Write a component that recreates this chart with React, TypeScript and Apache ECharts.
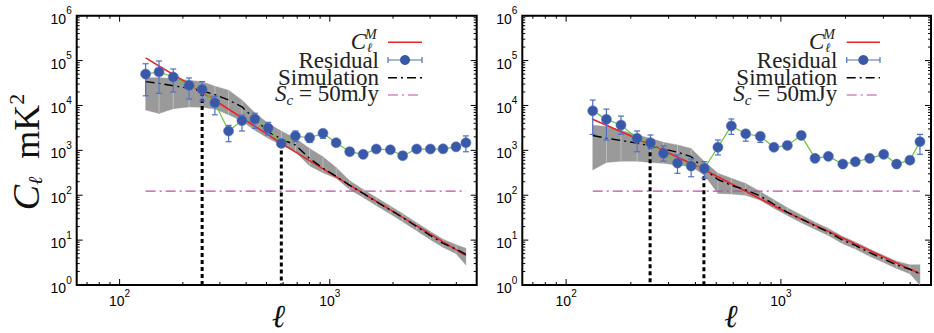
import React, { useEffect, useRef } from "react";
import * as echarts from "echarts";

// multipole bins (shared by both panels)
const ELL = [133, 154, 180, 214, 247, 284, 330, 382, 440, 509, 588, 686, 802, 928, 1072, 1244, 1442, 1664, 1942, 2222, 2590, 3011, 3458, 3987, 4442];

// ---- left panel ----
const RESID_A = [5.0e4, 5.6e4, 4.3e4, 2.8e4, 2.28e4, 1.15e4, 2.7e3, 4.6e3, 5.0e3, 3.15e3, 1.43e3, 2.09e3, 1.9e3, 2.4e3, 1.48e3, 935, 815, 1070, 1030, 760, 1070, 1070, 1080, 1200, 1480];
const ERR_LO_A = [1.64e4, 1.86e4, 2.0e4, 1.39e4, 1.27e4, 6.2e3, 1.56e3, 2.7e3, 3.1e3, 2.2e3, 1.25e3, 1.56e3, 1.5e3, 1.85e3, 1.3e3, 850, 750, 990, 960, 700, 990, 990, 1000, 1080, 930];
const ERR_HI_A = [8.5e4, 9.8e4, 6.5e4, 4.1e4, 3.4e4, 1.6e4, 3.6e3, 6.1e3, 6.7e3, 4.2e3, 1.65e3, 2.7e3, 2.4e3, 2.8e3, 1.7e3, 1030, 890, 1150, 1110, 830, 1150, 1150, 1160, 1350, 2100];
const SIM_A = [3.4e4, 3.1e4, 2.75e4, 2.4e4, 2.1e4, 1.74e4, 1.32e4, 9.3e3, 5.0e3, 2.6e3, 1.78e3, 1.32e3, 660, 400, 263, 166, 110, 72, 47, 32, 20, 12.6, 8.5, 6.3, 4.8];
const BAND_LO_A = [7.9e3, 6.6e3, 8.5e3, 9.3e3, 9.1e3, 8.3e3, 6.2e3, 4.5e3, 2.8e3, 1.86e3, 1.32e3, 933, 447, 316, 240, 135, 89, 59, 38, 25.7, 16.2, 10.2, 6.9, 5.0, 2.8];
const BAND_HI_A = [4.17e4, 4.17e4, 3.98e4, 3.63e4, 3.39e4, 2.69e4, 2.19e4, 1.32e4, 6.9e3, 3.98e3, 2.69e3, 1.86e3, 1.1e3, 724, 417, 209, 135, 89, 57.5, 38.9, 24.5, 15.5, 10.5, 7.9, 6.6];
const MODEL_ELL_A = [133, 247, 588, 1442, 4442];
const MODEL_A = [1.15e5, 2.0e4, 1.43e3, 110, 4.5];
const CUT_ELL_A = [247, 588];
const CUT_TOP_A = [2.0e4, 1.43e3];

// ---- right panel ----
const RESID_B = [7.6e3, 4.9e3, 3.66e3, 1.85e3, 1.48e3, 857, 521, 447, 398, 1170, 3500, 2340, 2050, 1170, 1290, 2150, 663, 735, 495, 558, 663, 815, 495, 605, 1560];
const ERR_LO_B = [2.27e3, 1.7e3, 2.27e3, 930, 1.1e3, 575, 308, 258, 238, 790, 2.27e3, 1.6e3, 1.5e3, 1.0e3, 1.15e3, 1.95e3, 600, 670, 450, 505, 600, 740, 450, 540, 815];
const ERR_HI_B = [1.32e4, 8.3e3, 5.8e3, 2.7e3, 2.2e3, 1.26e3, 790, 645, 560, 1.7e3, 5.0e3, 2.8e3, 2.45e3, 1.35e3, 1.45e3, 2.35e3, 730, 800, 545, 615, 730, 900, 545, 680, 2.27e3];
const SIM_B = [2140, 1860, 1660, 1445, 1260, 1070, 912, 724, 380, 224, 166, 132, 95.5, 63, 41.7, 29.5, 20.9, 15.1, 10, 7.6, 5.25, 3.8, 2.8, 2.24, 1.78];
const BAND_LO_B = [363, 537, 575, 575, 537, 513, 468, 437, 282, 110, 107, 100, 77.6, 51.3, 35.5, 24.5, 17.4, 12.6, 8.3, 6.3, 4.37, 3.16, 2.34, 1.78, 1.0];
const BAND_HI_B = [3630, 3390, 2820, 2190, 1860, 1510, 1320, 1100, 562, 309, 240, 182, 120, 79.4, 52.5, 36.3, 25.1, 18.2, 12, 9.1, 6.3, 4.57, 3.39, 2.82, 2.82];
const MODEL_ELL_B = [132, 250, 435, 682, 1000, 4418];
const MODEL_B = [5000, 1310, 378, 124, 48, 1.8];
const CUT_ELL_B = [246, 438];
const CUT_TOP_B = [1.3e3, 380];

// flux cut level
const S_CUT = 124;
const S_CUT_ELL = [133, 4442];

// axes
const X_MIN = 62.5;
const X_MAX = 5000;
const Y_MIN = 1;
const Y_MAX = 1e6;
const X_MINOR = [70, 80, 90, 200, 300, 400, 500, 600, 700, 800, 900, 2000, 3000, 4000];
const X_MAJOR = [100, 1000];
const Y_MAJOR = [1, 10, 100, 1e3, 1e4, 1e5, 1e6];
const Y_MINOR = [1, 10, 100, 1e3, 1e4, 1e5].flatMap((d) => [2, 3, 4, 5, 6, 7, 8, 9].map((k) => k * d));

const LEGEND_LABELS = ["Residual", "Simulation", " = 50mJy"];

const SERIF = "'Liberation Serif', 'DejaVu Serif', serif";
const SANS = "'Liberation Sans', Arial, sans-serif";
const RED = "#e8262a";
const BLUE = "#3a58a8";
const EBLUE = "#4f6fc2";
const GREEN = "#6cc43a";
const MAGENTA = "#b553a6";
const GRAY = "#9a9a9a";

const GRIDS = [
  { left: 76.7, top: 15.7, width: 400, height: 269.3 },
  { left: 522.3, top: 15.7, width: 413.7, height: 269.3 },
];

function powLabel(v: number) {
  const e = Math.log10(v);
  if (Math.abs(e - Math.round(e)) > 1e-6) return "";
  return `{b|10}{s|${Math.round(e)}}`;
}
const LABEL_RICH = {
  b: { fontSize: 14, fontFamily: SANS, color: "#000", lineHeight: 20, verticalAlign: "bottom" },
  s: { fontSize: 10, fontFamily: SANS, color: "#000", lineHeight: 10, verticalAlign: "top" },
};

function panelSeries(p: number, d: any) {
  const ax = { xAxisIndex: p, yAxisIndex: p };
  const band = ELL.slice(0, -1).map((l, i) => [l, d.lo[i], d.hi[i], ELL[i + 1], d.lo[i + 1], d.hi[i + 1]]);
  const tickSeries = (vals: number[], isX: boolean, len: number) => ({
    type: "custom",
    ...ax,
    silent: true,
    z: 20,
    data: vals.map((v) => (isX ? [v, Y_MIN] : [X_MIN, v])),
    renderItem: (params: any, api: any) => {
      const v = api.value(isX ? 0 : 1);
      const a = isX ? api.coord([v, Y_MIN]) : api.coord([X_MIN, v]);
      const b = isX ? api.coord([v, Y_MAX]) : api.coord([X_MAX, v]);
      const st = { stroke: "#000", lineWidth: 1 };
      return {
        type: "group",
        children: isX
          ? [
              { type: "line", shape: { x1: a[0], y1: a[1], x2: a[0], y2: a[1] - len }, style: st },
              { type: "line", shape: { x1: b[0], y1: b[1], x2: b[0], y2: b[1] + len }, style: st },
            ]
          : [
              { type: "line", shape: { x1: a[0], y1: a[1], x2: a[0] + len, y2: a[1] }, style: st },
              { type: "line", shape: { x1: b[0], y1: b[1], x2: b[0] - len, y2: b[1] }, style: st },
            ],
      };
    },
  });
  return [
    {
      type: "custom",
      ...ax,
      silent: true,
      z: 1,
      data: band,
      encode: { x: [0, 3], y: [1, 2, 4, 5] },
      renderItem: (params: any, api: any) => {
        const p0l = api.coord([api.value(0), api.value(1)]);
        const p0h = api.coord([api.value(0), api.value(2)]);
        const p1l = api.coord([api.value(3), api.value(4)]);
        const p1h = api.coord([api.value(3), api.value(5)]);
        const children: any[] = [
          { type: "polygon", shape: { points: [p0l, p1l, p1h, p0h] }, style: { fill: GRAY, stroke: GRAY, lineWidth: 0.4 } },
        ];
        if (params.dataIndex > 0) {
          children.push({ type: "line", z2: 2, shape: { x1: p0l[0], y1: p0l[1], x2: p0h[0], y2: p0h[1] }, style: { stroke: "#c4c4c4", lineWidth: 0.8 } });
        }
        return { type: "group", children };
      },
    },
    {
      type: "line",
      ...ax,
      silent: true,
      z: 2,
      showSymbol: false,
      data: S_CUT_ELL.map((l) => [l, S_CUT]),
      lineStyle: { color: MAGENTA, width: 1.2, type: [10, 4, 2, 4] },
    },
    {
      type: "line",
      ...ax,
      silent: true,
      z: 4,
      showSymbol: false,
      data: d.mEll.map((l: number, i: number) => [l, d.model[i]]),
      lineStyle: { color: RED, width: 1.6 },
    },
    {
      type: "line",
      ...ax,
      silent: true,
      z: 5,
      showSymbol: false,
      data: ELL.map((l, i) => [l, d.sim[i]]),
      lineStyle: { color: "#000", width: 1.4, type: [9, 4, 2, 4] },
    },
    {
      type: "custom",
      ...ax,
      silent: true,
      z: 6,
      data: d.cutEll.map((l: number, i: number) => [l, d.cutTop[i]]),
      renderItem: (params: any, api: any) => {
        const t = api.coord([api.value(0), api.value(1)]);
        const b = api.coord([api.value(0), Y_MIN]);
        return { type: "line", shape: { x1: t[0], y1: t[1], x2: b[0], y2: b[1] }, style: { stroke: "#000", lineWidth: 3, lineDash: [4, 3] } };
      },
    },
    {
      type: "custom",
      ...ax,
      silent: true,
      z: 7,
      data: ELL.map((l, i) => [l, d.elo[i], d.ehi[i]]),
      encode: { x: 0, y: [1, 2] },
      renderItem: (params: any, api: any) => {
        const lo = api.coord([api.value(0), api.value(1)]);
        const hi = api.coord([api.value(0), api.value(2)]);
        const st = { stroke: EBLUE, lineWidth: 1.2 };
        return {
          type: "group",
          children: [
            { type: "line", shape: { x1: lo[0], y1: lo[1], x2: hi[0], y2: hi[1] }, style: st },
            { type: "line", shape: { x1: lo[0] - 3, y1: lo[1], x2: lo[0] + 3, y2: lo[1] }, style: st },
            { type: "line", shape: { x1: hi[0] - 3, y1: hi[1], x2: hi[0] + 3, y2: hi[1] }, style: st },
          ],
        };
      },
    },
    {
      type: "line",
      ...ax,
      silent: true,
      z: 8,
      symbol: "circle",
      symbolSize: 10,
      data: ELL.map((l, i) => [l, d.resid[i]]),
      lineStyle: { color: GREEN, width: 1.2 },
      itemStyle: { color: BLUE, borderColor: "#5a76c0", borderWidth: 0.6 },
    },
    tickSeries(X_MAJOR, true, 6),
    tickSeries(X_MINOR, true, 3),
    tickSeries(Y_MAJOR, false, 6),
    tickSeries(Y_MINOR, false, 3),
  ];
}

function legend(xr: number, s0: number, s1: number) {
  const rows = [42.3, 60, 77.7, 95];
  const txt = (text: string, y: number) => ({
    type: "text",
    x: xr,
    y,
    style: { text, font: `23px ${SERIF}`, fill: "#222", align: "right", verticalAlign: "middle" },
  });
  const mid = (s0 + s1) / 2;
  return [
    { type: "text", x: xr - 13, y: 41.5, style: { text: "C", font: `italic 23px ${SERIF}`, fill: "#222", align: "right", verticalAlign: "middle" } },
    { type: "text", x: xr - 14, y: 34, style: { text: "M", font: `italic 14px ${SERIF}`, fill: "#222", align: "left", verticalAlign: "middle" } },
    { type: "text", x: xr - 12, y: 47, style: { text: "ℓ", font: `italic 13px ${SERIF}`, fill: "#222", align: "left", verticalAlign: "middle" } },
    txt(LEGEND_LABELS[0], 60),
    txt(LEGEND_LABELS[1], 77.5),
    {
      type: "text",
      x: xr,
      y: 94.5,
      style: {
        text: `{i|S}{c|c}{n|${LEGEND_LABELS[2]}}`,
        align: "right",
        verticalAlign: "middle",
        rich: {
          i: { font: `italic 23px ${SERIF}`, fill: "#222", color: "#222", lineHeight: 26, verticalAlign: "top" },
          c: { font: `italic 15px ${SERIF}`, fill: "#222", color: "#222", lineHeight: 16, verticalAlign: "bottom" },
          n: { font: `23px ${SERIF}`, fill: "#222", color: "#222", lineHeight: 26, verticalAlign: "top" },
        },
      },
    },
    { type: "line", shape: { x1: s0, y1: rows[0], x2: s1, y2: rows[0] }, style: { stroke: RED, lineWidth: 1.6 } },
    { type: "line", shape: { x1: s0, y1: rows[1], x2: s1, y2: rows[1] }, style: { stroke: EBLUE, lineWidth: 1.2 } },
    { type: "line", shape: { x1: s0, y1: rows[1] - 3, x2: s0, y2: rows[1] + 3 }, style: { stroke: EBLUE, lineWidth: 1.2 } },
    { type: "line", shape: { x1: s1, y1: rows[1] - 3, x2: s1, y2: rows[1] + 3 }, style: { stroke: EBLUE, lineWidth: 1.2 } },
    { type: "circle", shape: { cx: mid, cy: rows[1], r: 5 }, style: { fill: BLUE } },
    { type: "line", shape: { x1: s0, y1: rows[2], x2: s1, y2: rows[2] }, style: { stroke: "#000", lineWidth: 1.4, lineDash: [9, 4, 2, 4] } },
    { type: "line", shape: { x1: s0, y1: rows[3], x2: s1, y2: rows[3] }, style: { stroke: MAGENTA, lineWidth: 1.2, lineDash: [10, 4, 2, 4] } },
  ];
}

function buildOption() {
  const dataA = { resid: RESID_A, elo: ERR_LO_A, ehi: ERR_HI_A, sim: SIM_A, lo: BAND_LO_A, hi: BAND_HI_A, mEll: MODEL_ELL_A, model: MODEL_A, cutEll: CUT_ELL_A, cutTop: CUT_TOP_A };
  const dataB = { resid: RESID_B, elo: ERR_LO_B, ehi: ERR_HI_B, sim: SIM_B, lo: BAND_LO_B, hi: BAND_HI_B, mEll: MODEL_ELL_B, model: MODEL_B, cutEll: CUT_ELL_B, cutTop: CUT_TOP_B };
  const grid = GRIDS.map((g) => ({ ...g, show: true, borderColor: "#000", borderWidth: 2, backgroundColor: "transparent", containLabel: false }));
  const xAxis = [0, 1].map((i) => ({
    type: "log",
    logBase: 10,
    gridIndex: i,
    min: X_MIN,
    max: X_MAX,
    splitNumber: 2,
    axisLine: { show: false },
    axisTick: { show: false },
    splitLine: { show: false },
    axisLabel: { formatter: powLabel, margin: 3, rich: LABEL_RICH },
  }));
  const yAxis = [0, 1].map((i) => ({
    type: "log",
    logBase: 10,
    gridIndex: i,
    min: Y_MIN,
    max: Y_MAX,
    splitNumber: 6,
    axisLine: { show: false },
    axisTick: { show: false },
    splitLine: { show: false },
    axisLabel: { formatter: powLabel, margin: 5, rich: LABEL_RICH },
  }));
  const graphic = [
    ...legend(379, 388, 422),
    ...legend(837.3, 846.7, 880),
    {
      type: "text",
      x: 25,
      y: 152,
      rotation: Math.PI / 2,
      style: {
        text: "{c|C}{l|ℓ}{m|  mK}{s|2}",
        align: "center",
        verticalAlign: "middle",
        rich: {
          c: { font: `italic 38px ${SERIF}`, color: "#111", fill: "#111", lineHeight: 40, verticalAlign: "bottom" },
          l: { font: `italic 20px ${SERIF}`, color: "#111", fill: "#111", lineHeight: 22, verticalAlign: "bottom" },
          m: { font: `36px ${SERIF}`, color: "#111", fill: "#111", lineHeight: 40, verticalAlign: "bottom" },
          s: { font: `22px ${SERIF}`, color: "#111", fill: "#111", lineHeight: 22, verticalAlign: "top" },
        },
      },
    },
    { type: "text", x: 278.5, y: 316, style: { text: "ℓ", font: `italic 32px ${SERIF}`, fill: "#111", align: "center", verticalAlign: "middle" } },
    { type: "text", x: 731, y: 316, style: { text: "ℓ", font: `italic 32px ${SERIF}`, fill: "#111", align: "center", verticalAlign: "middle" } },
  ];
  return {
    animation: false,
    backgroundColor: "#fff",
    grid,
    xAxis,
    yAxis,
    graphic,
    series: [...panelSeries(0, dataA), ...panelSeries(1, dataB)],
  };
}

export default function App() {
  const ref = useRef<HTMLDivElement>(null);
  useEffect(() => {
    const chart = echarts.init(ref.current!, null, { renderer: "svg" });
    chart.setOption(buildOption() as any);
    return () => chart.dispose();
  }, []);
  return <div ref={ref} style={{ position: "absolute", left: 0, top: 0, width: 934, height: 333 }} />;
}
